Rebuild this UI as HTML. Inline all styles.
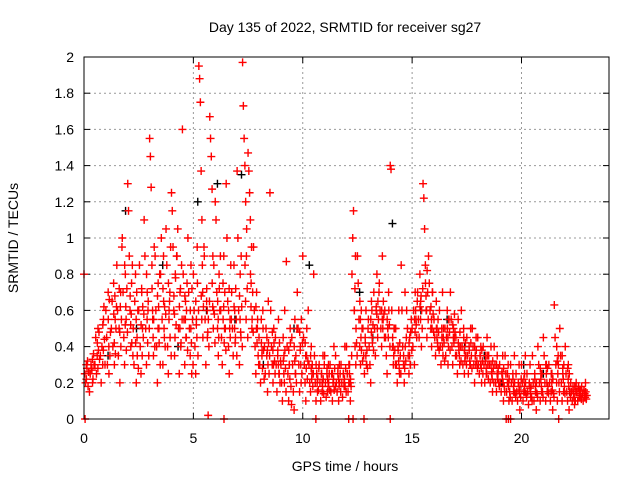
<!DOCTYPE html>
<html><head><meta charset="utf-8"><style>
body{margin:0;background:#fff}
svg{display:block;font-family:"Liberation Sans",sans-serif}
</style></head><body>
<svg id="chart" width="640" height="480">
<text x="345" y="32" font-size="14" text-anchor="middle">Day 135 of 2022, SRMTID for receiver sg27</text>
<text x="18" y="238" font-size="14" text-anchor="middle" transform="rotate(-90 18 238)">SRMTID / TECUs</text>
<text x="345" y="471" font-size="14" text-anchor="middle">GPS time / hours</text>
<g id="grid"></g>
<g id="ticks"></g>
<g id="black"></g>
<g id="red"></g>
<rect x="84" y="57" width="525" height="362" fill="none" stroke="#000" stroke-width="1"/>
</svg>
<script>
const xTicks=[0,5,10,15,20];
const yTicks=[0,0.2,0.4,0.6,0.8,1,1.2,1.4,1.6,1.8,2];
const yTickLabels=["0","0.2","0.4","0.6","0.8","1","1.2","1.4","1.6","1.8","2"];
const times=[0,0.25,0.5,0.75,1,1.25,1.5,1.75,2,2.25,2.5,2.75,3,3.25,3.5,3.75,4,4.25,4.5,4.75,5,5.25,5.5,5.75,6,6.25,6.5,6.75,7,7.25,7.5,7.75,8,8.25,8.5,8.75,9,9.25,9.5,9.75,10,10.25,10.5,10.75,11,11.25,11.5,11.75,12,12.25,12.5,12.75,13,13.25,13.5,13.75,14,14.25,14.5,14.75,15,15.25,15.5,15.75,16,16.25,16.5,16.75,17,17.25,17.5,17.75,18,18.25,18.5,18.75,19,19.25,19.5,19.75,20,20.25,20.5,20.75,21,21.25,21.5,21.75,22,22.25,22.5,22.75];
const redValues=[
[0.8,0.25,0.2,0.3],[0.15,0.25,0.3,0.28,0.2],[0.3,0.45,0.25,0.35,0.5],[0.35,0.2,0.4,0.3,0.55],[0.6,0.45,0.3,0.7,0.25],
[0.5,0.65,0.4,0.75,0.3,0.55],[0.85,0.6,0.35,0.5,0.2,0.7],[1.0,0.7,0.45,0.3,0.8,0.55],[1.3,1.15,0.9,0.6,0.4,0.75],[0.5,0.3,0.65,0.8,0.2,0.45],
[0.6,0.85,0.4,0.25,0.7,0.5],[1.1,0.9,0.5,0.3,0.7,0.6],[1.55,1.45,1.28,0.85,0.55,0.35],[0.9,0.6,0.4,0.2,0.75,0.5],[0.8,1.0,0.55,0.3,0.65,0.45],
[1.05,0.85,0.4,0.25,0.6,0.7],[1.25,1.15,0.95,0.6,0.35,0.8],[0.9,1.05,0.5,0.25,0.7,0.4],[1.6,0.8,0.55,0.3,0.65,0.45],[1.0,0.7,0.5,0.35,0.85,0.25],
[0.8,0.6,0.4,0.25,0.55,0.95],[1.95,1.88,1.75,1.37,1.1,0.7],[0.9,0.55,0.3,0.65,0.45,0.02],[1.67,1.55,1.45,1.27,0.9,0.6],[1.2,1.1,0.7,0.5,0.35,0.8],
[0.6,0.45,0.3,0.75,0.9,0.5],[1.3,1.0,0.65,0.4,0.25,0.55],[0.7,0.5,0.35,0.85,0.6,0.45],[1.37,1.0,0.6,0.3,0.8,0.45],[1.97,1.73,1.55,1.4,1.2,0.9],
[1.47,1.37,1.25,1.1,0.75,0.5],[0.95,0.6,0.4,0.25,0.7,0.5],[0.45,0.3,0.2,0.55,0.38,0.6],[0.4,0.25,0.5,0.35,0.15,0.65],[1.25,0.6,0.4,0.3,0.2,0.5],
[0.45,0.3,0.15,0.35,0.55,0.25],[0.3,0.2,0.1,0.45,0.35,0.6],[0.87,0.4,0.25,0.1,0.3,0.5],[0.45,0.3,0.15,0.05,0.55,0.25],[0.7,0.5,0.3,0.15,0.4,0.2],
[0.9,0.45,0.3,0.2,0.1,0.35],[0.6,0.3,0.2,0.15,0.4,0.25],[0.8,0.35,0.2,0.1,0.25,0.15],[0.3,0.2,0.1,0.25,0.15,0.35],[0.35,0.2,0.12,0.25,0.15,0.3],
[0.3,0.15,0.25,0.1,0.2,0.4],[0.35,0.2,0.15,0.25,0.1,0.3],[0.3,0.2,0.12,0.25,0.18,0.4],[0.4,0.25,0.15,0.2,0.3,0.1],[0.8,1.0,1.15,0.6,0.4,0.3],
[0.9,0.75,0.55,0.4,0.3,0.6],[0.5,0.35,0.25,0.45,0.6,0.3],[0.55,0.4,0.3,0.2,0.65,0.45],[0.7,0.5,0.35,0.6,0.8,0.45],[0.75,0.6,0.5,0.4,0.9,0.55],
[0.6,0.45,0.35,0.25,0.5,0.7],[1.4,1.38,0.6,0.4,0.3,0.5],[0.5,0.3,0.2,0.4,0.6,0.25],[0.85,0.6,0.4,0.3,0.2,0.7],[0.6,0.5,0.35,0.25,0.45,0.3],
[0.5,0.4,0.6,0.3,0.7,0.55],[0.7,0.55,0.45,0.8,0.65,0.4],[1.3,1.22,1.05,0.85,0.6,0.45],[0.9,0.75,0.6,0.5,0.4,0.7],[0.55,0.45,0.35,0.65,0.5,0.4],
[0.6,0.4,0.3,0.5,0.7,0.45],[0.5,0.35,0.45,0.6,0.3,0.55],[0.7,0.55,0.4,0.3,0.5,0.45],[0.45,0.35,0.25,0.55,0.4,0.3],[0.6,0.4,0.3,0.5,0.25,0.35],
[0.45,0.35,0.25,0.4,0.3,0.5],[0.5,0.4,0.3,0.2,0.35,0.45],[0.45,0.3,0.25,0.35,0.4,0.2],[0.4,0.3,0.2,0.35,0.25,0.45],[0.35,0.3,0.2,0.4,0.25,0.15],
[0.4,0.3,0.2,0.15,0.35,0.25],[0.3,0.2,0.15,0.25,0.35,0.1],[0.35,0.25,0.15,0.2,0.3,0.1],[0.3,0.2,0.1,0.25,0.15,0.35],[0.25,0.15,0.1,0.2,0.3,0.05],
[0.3,0.2,0.1,0.15,0.25,0.35],[0.25,0.15,0.08,0.2,0.3,0.12],[0.35,0.2,0.1,0.25,0.15,0.05],[0.4,0.3,0.2,0.1,0.25,0.15],[0.45,0.35,0.2,0.1,0.3,0.15],
[0.3,0.2,0.1,0.15,0.25,0.05],[0.63,0.45,0.3,0.2,0.1,0.35],[0.5,0.35,0.2,0.1,0.25,0.15],[0.4,0.25,0.15,0.1,0.3,0.05],[0.2,0.15,0.1,0.18,0.12,0.08],
[0.2,0.15,0.1,0.18,0.12,0.14],[0.18,0.14,0.1,0.16,0.12,0.2],[0.15,0.12,0.1,0.14,0.11,0.13]];
const redValues2=[
[0.22,0.28,0.32,0.18,0.26],[0.27,0.33,0.22,0.36,0.3],[0.42,0.28,0.38,0.48,0.33],[0.52,0.38,0.62,0.44,0.3],[0.55,0.4,0.66,0.35,0.48],
[0.58,0.42,0.68,0.36,0.5,0.62],[0.72,0.48,0.62,0.4,0.55,0.95],[0.85,0.52,0.62,0.38,0.72,0.48],[0.68,0.52,0.58,0.42,0.85,0.35],[0.42,0.55,0.7,0.35,0.6,0.28],
[0.52,0.72,0.35,0.62,0.45,0.58],[0.8,0.55,0.42,0.65,0.35,0.5],[0.72,0.6,0.45,0.55,0.95,0.4],[0.68,0.5,0.62,0.42,0.8,0.3],[0.72,0.9,0.5,0.62,0.4,0.58],
[0.75,0.55,0.65,0.45,0.95,0.35],[0.68,0.58,0.45,0.78,0.52,0.9],[0.62,0.5,0.72,0.42,0.85,0.55],[0.68,0.55,0.45,0.6,0.75,0.38],[0.6,0.5,0.42,0.72,0.55,0.3],
[0.65,0.52,0.45,0.75,0.35,0.6],[0.68,0.55,0.85,0.45,0.62,0.95],[0.72,0.6,0.48,0.55,0.4,0.65],[0.75,0.62,0.5,0.85,0.58,0.42],[0.65,0.55,0.45,0.72,0.6,0.9],
[0.55,0.62,0.42,0.7,0.5,0.38],[0.6,0.72,0.5,0.45,0.85,0.55],[0.62,0.5,0.42,0.72,0.55,0.35],[0.68,0.55,0.48,0.9,0.62,0.4],[0.85,0.65,0.55,1.05,0.72,0.45],
[0.8,0.62,0.95,0.55,0.7,0.48],[0.62,0.5,0.42,0.55,0.35,0.3],[0.42,0.35,0.28,0.5,0.38,0.22],[0.45,0.38,0.3,0.42,0.25,0.35],[0.48,0.38,0.3,0.42,0.32,0.25],
[0.38,0.3,0.25,0.42,0.2,0.32],[0.32,0.25,0.2,0.38,0.28,0.15],[0.38,0.3,0.22,0.42,0.18,0.08],[0.4,0.32,0.25,0.35,0.2,0.5],[0.48,0.38,0.3,0.55,0.25,0.42],
[0.42,0.35,0.28,0.5,0.22,0.32],[0.35,0.28,0.22,0.3,0.18,0.25],[0.3,0.25,0.2,0.22,0.16,0.28],[0.25,0.2,0.18,0.22,0.14,0.3],[0.28,0.22,0.18,0.2,0.25,0.16],
[0.25,0.2,0.22,0.16,0.28,0.18],[0.28,0.22,0.18,0.2,0.25,0.15],[0.25,0.2,0.22,0.18,0.28,0.15],[0.3,0.25,0.2,0.22,0.18,0.35],[0.6,0.72,0.9,0.5,0.42,0.35],
[0.65,0.55,0.45,0.38,0.5,0.32],[0.42,0.35,0.3,0.38,0.28,0.5],[0.55,0.48,0.6,0.42,0.52,0.38],[0.62,0.58,0.5,0.65,0.55,0.7],[0.6,0.55,0.5,0.65,0.58,0.45],
[0.55,0.5,0.45,0.6,0.52,0.4],[0.45,0.4,0.35,0.5,0.38,0.3],[0.38,0.32,0.28,0.42,0.35,0.25],[0.35,0.3,0.28,0.4,0.32,0.45],[0.42,0.35,0.3,0.48,0.55,0.38],
[0.55,0.48,0.6,0.52,0.45,0.65],[0.62,0.55,0.68,0.6,0.5,0.72],[0.75,0.68,0.6,0.82,0.7,0.55],[0.62,0.55,0.5,0.7,0.58,0.48],[0.5,0.45,0.42,0.55,0.48,0.38],
[0.45,0.4,0.35,0.5,0.42,0.32],[0.5,0.45,0.4,0.55,0.48,0.38],[0.52,0.45,0.42,0.58,0.48,0.35],[0.42,0.38,0.35,0.48,0.4,0.32],[0.45,0.38,0.32,0.42,0.35,0.3],
[0.38,0.32,0.3,0.42,0.35,0.28],[0.4,0.35,0.3,0.38,0.32,0.28],[0.35,0.3,0.28,0.38,0.32,0.25],[0.32,0.28,0.25,0.35,0.3,0.22],[0.3,0.26,0.22,0.32,0.28,0.2],
[0.3,0.25,0.22,0.28,0.2,0.18],[0.26,0.22,0.2,0.28,0.18,0.15],[0.25,0.2,0.18,0.22,0.15,0.12],[0.22,0.18,0.15,0.2,0.14,0.12],[0.2,0.16,0.14,0.18,0.12,0.22],
[0.22,0.18,0.15,0.2,0.14,0.12],[0.2,0.17,0.14,0.18,0.12,0.1],[0.22,0.18,0.15,0.2,0.14,0.12],[0.28,0.22,0.18,0.25,0.15,0.12],[0.3,0.25,0.2,0.28,0.18,0.14],
[0.25,0.2,0.16,0.22,0.14,0.12],[0.4,0.32,0.25,0.3,0.2,0.15],[0.35,0.28,0.22,0.3,0.18,0.14],[0.28,0.22,0.18,0.25,0.15,0.12],[0.16,0.14,0.12,0.18,0.1,0.15],
[0.17,0.15,0.13,0.16,0.12,0.11],[0.16,0.14,0.12,0.15,0.11,0.13],[0.14,0.12,0.11,0.13,0.1,0.12]];
const blackTimes=[1.1,1.9,2.4,3.6,4.3,5.2,5.6,6.1,6.9,7.2,8.2,9.6,10.3,12.6,13.2,14.1,15.4,16.6,17.4,18.3,19.1,20.1,21.0,22.2];
const blackValues=[0.35,1.15,0.5,0.85,0.4,1.2,0.6,1.3,0.55,1.35,0.3,0.5,0.85,0.7,0.45,1.08,0.6,0.55,0.4,0.35,0.2,0.3,0.25,0.15];
const zeroTimes=[0.05,6.4,10.6,12.1,12.3,12.8,14.0,19.3,19.4,19.5,21.7];
const ns="http://www.w3.org/2000/svg";
const X=t=>84+t*525/24, Y=v=>419-v*181;
function mk(tag,attrs,parent){const e=document.createElementNS(ns,tag);for(const k in attrs)e.setAttribute(k,attrs[k]);parent.appendChild(e);return e;}
const grid=document.getElementById('grid'),ticks=document.getElementById('ticks');
yTicks.forEach((v,i)=>{
  if(v>0&&v<2){const l=mk('line',{x1:84,x2:609,y1:Y(v),y2:Y(v),stroke:'#999','stroke-dasharray':'2,3'},grid);
  
  }
  mk('line',{x1:84,x2:90,y1:Y(v),y2:Y(v),stroke:'#000'},ticks);
  mk('line',{x1:603,x2:609,y1:Y(v),y2:Y(v),stroke:'#000'},ticks);
  const t=mk('text',{x:74,y:Y(v)+5,'font-size':14,'text-anchor':'end'},ticks);
  
  
  t.textContent=yTickLabels[i];
});
xTicks.forEach(v=>{
  if(v>0){const l=mk('line',{x1:X(v),x2:X(v),y1:57,y2:419,stroke:'#999','stroke-dasharray':'2,3'},grid);
  
  }
  mk('line',{x1:X(v),x2:X(v),y1:413,y2:419,stroke:'#000'},ticks);
  mk('line',{x1:X(v),x2:X(v),y1:57,y2:63,stroke:'#000'},ticks);
  const t=mk('text',{x:X(v),y:443,'font-size':14,'text-anchor':'middle'},ticks);
  
  
  t.textContent=String(v);
});
function plus(g,t,v,c){
  const x=X(t),y=Y(v);
  const p=mk('path',{d:`M${x-4},${y}H${x+4}M${x},${y-4}V${y+4}`,stroke:c,'stroke-width':1.4,fill:'none'},g);
  
  
}
const red=document.getElementById('red'),black=document.getElementById('black');
blackTimes.forEach((t,i)=>plus(black,t,blackValues[i],'#000'));
times.forEach((t,i)=>{redValues[i].forEach((v,j)=>plus(red,t+j*0.035,v,'#f00'));});
times.forEach((t,i)=>{redValues2[i].forEach((v,j)=>plus(red,t+0.11+j*0.025,v,'#f00'));});
zeroTimes.forEach(t=>plus(red,t,0,'#f00'));
</script>
</body></html>
